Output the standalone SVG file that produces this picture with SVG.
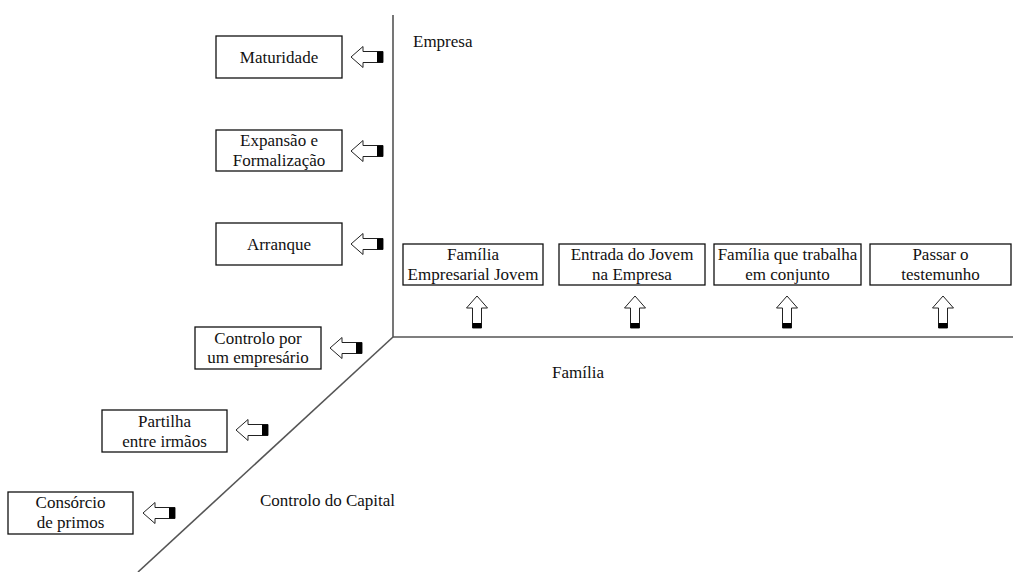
<svg xmlns="http://www.w3.org/2000/svg" xmlns:xlink="http://www.w3.org/1999/xlink" width="1013" height="572" viewBox="0 0 1013 572">
<style>
.box{fill:#fff;stroke:#111;stroke-width:1.3}
.t{font-family:"Liberation Serif","Times New Roman",serif;font-size:17px;fill:#111;text-anchor:middle}
.lbl{font-family:"Liberation Serif","Times New Roman",serif;font-size:17px;fill:#111}
.axis{stroke:#555;stroke-width:1.6;fill:none}
.arr{fill:#fff;stroke:#222;stroke-width:1}
</style>
<defs>
<g id="arrL"><polygon class="arr" points="0,0 12,-10.5 12,-5.5 32,-5.5 32,5.5 12,5.5 12,10.5"/><rect x="26" y="-5.5" width="6" height="11" fill="#000"/></g>
<g id="arrU"><polygon class="arr" points="0,0 10.5,12 4.5,12 4.5,32 -4.5,32 -4.5,12 -10.5,12"/><rect x="-4.5" y="27" width="9" height="5" fill="#000"/></g>
</defs>
<rect width="1013" height="572" fill="#fff"/>
<g id="connectors">
<polyline class="axis" points="393,15 393,337 1013,337"/>
<line class="axis" x1="393" y1="337" x2="138" y2="572"/>
<use xlink:href="#arrL" href="#arrL" x="351" y="57"/>
<use xlink:href="#arrL" href="#arrL" x="351" y="151"/>
<use xlink:href="#arrL" href="#arrL" x="351" y="244"/>
<use xlink:href="#arrL" href="#arrL" x="330" y="348"/>
<use xlink:href="#arrL" href="#arrL" x="236" y="430"/>
<use xlink:href="#arrL" href="#arrL" x="143" y="513"/>
<use xlink:href="#arrU" href="#arrU" x="477" y="296"/>
<use xlink:href="#arrU" href="#arrU" x="635" y="296"/>
<use xlink:href="#arrU" href="#arrU" x="787" y="296"/>
<use xlink:href="#arrU" href="#arrU" x="943" y="296"/>
</g>
<g id="axis-labels">
<text class="lbl" x="413" y="47">Empresa</text>
<text class="lbl" x="552" y="378">Família</text>
<text class="lbl" x="260" y="506">Controlo do Capital</text>
</g>
<g id="n-maturidade"><rect class="box" x="216" y="36" width="126" height="42"/><text class="t" x="279" y="63">Maturidade</text></g>
<g id="n-expansao"><rect class="box" x="216" y="130" width="126" height="41"/><text class="t" x="279" y="146">Expansão e</text><text class="t" x="279" y="166">Formalização</text></g>
<g id="n-arranque"><rect class="box" x="216" y="223" width="126" height="42"/><text class="t" x="279" y="250">Arranque</text></g>
<g id="n-controlo"><rect class="box" x="195" y="327" width="126" height="42"/><text class="t" x="258" y="344">Controlo por</text><text class="t" x="258" y="363">um empresário</text></g>
<g id="n-partilha"><rect class="box" x="102" y="410" width="125" height="42"/><text class="t" x="164.5" y="427">Partilha</text><text class="t" x="164.5" y="447">entre irmãos</text></g>
<g id="n-consorcio"><rect class="box" x="8" y="492" width="125" height="42"/><text class="t" x="70.5" y="508">Consórcio</text><text class="t" x="70.5" y="528">de primos</text></g>
<g id="n-familia-jovem"><rect class="box" x="403" y="244" width="140" height="41"/><text class="t" x="473" y="260">Família</text><text class="t" x="473" y="280">Empresarial Jovem</text></g>
<g id="n-entrada"><rect class="box" x="559" y="244" width="146" height="41"/><text class="t" x="632" y="260">Entrada do Jovem</text><text class="t" x="632" y="280">na Empresa</text></g>
<g id="n-trabalha"><rect class="box" x="714" y="244" width="147" height="41"/><text class="t" x="787.5" y="260">Família que trabalha</text><text class="t" x="787.5" y="280">em conjunto</text></g>
<g id="n-passar"><rect class="box" x="870" y="244" width="141" height="41"/><text class="t" x="940.5" y="260">Passar o</text><text class="t" x="940.5" y="280">testemunho</text></g>
</svg>
